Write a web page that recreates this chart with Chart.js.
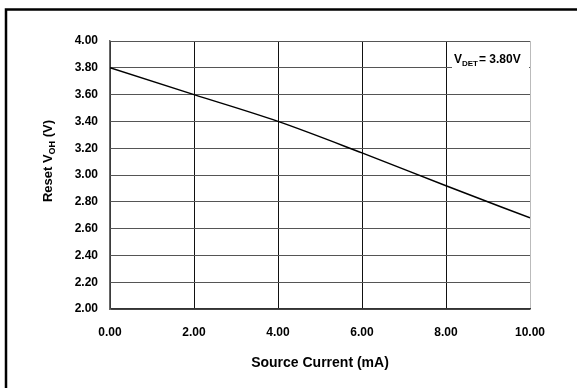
<!DOCTYPE html>
<html>
<head>
<meta charset="utf-8">
<script src="https://cdn.jsdelivr.net/npm/chart.js@4"></script>
<style>
  html, body { margin: 0; padding: 0; background: #fff; }
  canvas { display: block; }
</style>
</head>
<body>
<canvas id="chart" width="577" height="388"></canvas>
<script>
// source current (mA) vs reset VOH (V)
var currents = [0, 2, 4, 6, 8, 10];
var voltages = [3.80, 3.60, 3.40, 3.165, 2.92, 2.68];
var xTicks = [0, 2, 4, 6, 8, 10];
var yTicks = [2.0, 2.2, 2.4, 2.6, 2.8, 3.0, 3.2, 3.4, 3.6, 3.8, 4.0];
var vdetLabel = "3.80V";

var font = "'Liberation Sans', Arial, sans-serif";

var points = [];
currents.forEach(function(c, i) {
    points.push({ x: c, y: voltages[i] });
});

var extras = {
    id: 'extras',
    afterDraw: function(chart) {
        var ctx = chart.ctx;
        var area = chart.chartArea;
        ctx.save();
        // frame (top and left only)
        ctx.strokeStyle = '#000';
        ctx.lineWidth = 2.5;
        ctx.beginPath();
        ctx.moveTo(6, 388);
        ctx.lineTo(6, 9.5);
        ctx.lineTo(577, 9.5);
        ctx.stroke();

        // V_DET annotation box
        ctx.fillStyle = '#fff';
        ctx.fillRect(452, area.top + 2, area.right - 453, 28);
        ctx.fillStyle = '#000';
        ctx.textBaseline = 'alphabetic';
        ctx.textAlign = 'left';
        var x = 454;
        ctx.font = "bold 12px " + font;
        ctx.fillText("V", x, 63);
        x += ctx.measureText("V").width;
        ctx.font = "bold 8px " + font;
        ctx.fillText("DET", x, 66);
        x += ctx.measureText("DET").width + 1;
        ctx.font = "bold 12px " + font;
        ctx.fillText("= " + vdetLabel, x, 63);

        // y axis title with subscript
        var parts = [["Reset V", 13, 0], ["OH", 9, 3], [" (V)", 13, 0]];
        var total = 0;
        parts.forEach(function(p) {
            ctx.font = "bold " + p[1] + "px " + font;
            total += ctx.measureText(p[0]).width;
        });
        ctx.translate(52, 161);
        ctx.rotate(-Math.PI / 2);
        var px = -total / 2;
        parts.forEach(function(p) {
            ctx.font = "bold " + p[1] + "px " + font;
            ctx.fillText(p[0], px, p[2]);
            px += ctx.measureText(p[0]).width;
        });
        ctx.restore();
    }
};

new Chart(document.getElementById('chart'), {
    type: 'line',
    data: {
        datasets: [{
            data: points,
            borderColor: '#000',
            borderWidth: 1.5,
            pointRadius: 0,
            fill: false,
            cubicInterpolationMode: 'monotone'
        }]
    },
    options: {
        responsive: false,
        animation: false,
        layout: { padding: { top: 41, right: 47, left: 0, bottom: 0 } },
        plugins: {
            legend: { display: false },
            tooltip: { enabled: false }
        },
        scales: {
            x: {
                type: 'linear',
                min: 0,
                max: 10,
                afterBuildTicks: function(scale) {
                    scale.ticks = xTicks.map(function(v) { return { value: v }; });
                },
                afterFit: function(scale) { scale.height = 79; },
                grid: {
                    drawTicks: false,
                    lineWidth: 1,
                    color: function(c) { return c.tick && c.tick.value === 10 ? '#bbb' : '#111'; }
                },
                border: { color: '#333', width: 1.5 },
                ticks: {
                    padding: 16,
                    color: '#000',
                    font: { family: font, size: 12, weight: 'bold' },
                    callback: function(v) { return Number(v).toFixed(2); }
                },
                title: {
                    display: true,
                    text: 'Source Current (mA)',
                    color: '#000',
                    font: { family: font, size: 14, weight: 'bold' },
                    padding: { top: 4, bottom: 16 }
                }
            },
            y: {
                min: 2,
                max: 4,
                afterBuildTicks: function(scale) {
                    scale.ticks = yTicks.map(function(v) { return { value: v }; });
                },
                afterFit: function(scale) { scale.width = 110; },
                grid: {
                    drawTicks: false,
                    lineWidth: 1,
                    color: '#555'
                },
                border: { color: '#666', width: 1.5 },
                ticks: {
                    padding: 12,
                    color: '#000',
                    font: { family: font, size: 12, weight: 'bold' },
                    callback: function(v) { return Number(v).toFixed(2); }
                }
            }
        }
    },
    plugins: [extras]
});
</script>
</body>
</html>
